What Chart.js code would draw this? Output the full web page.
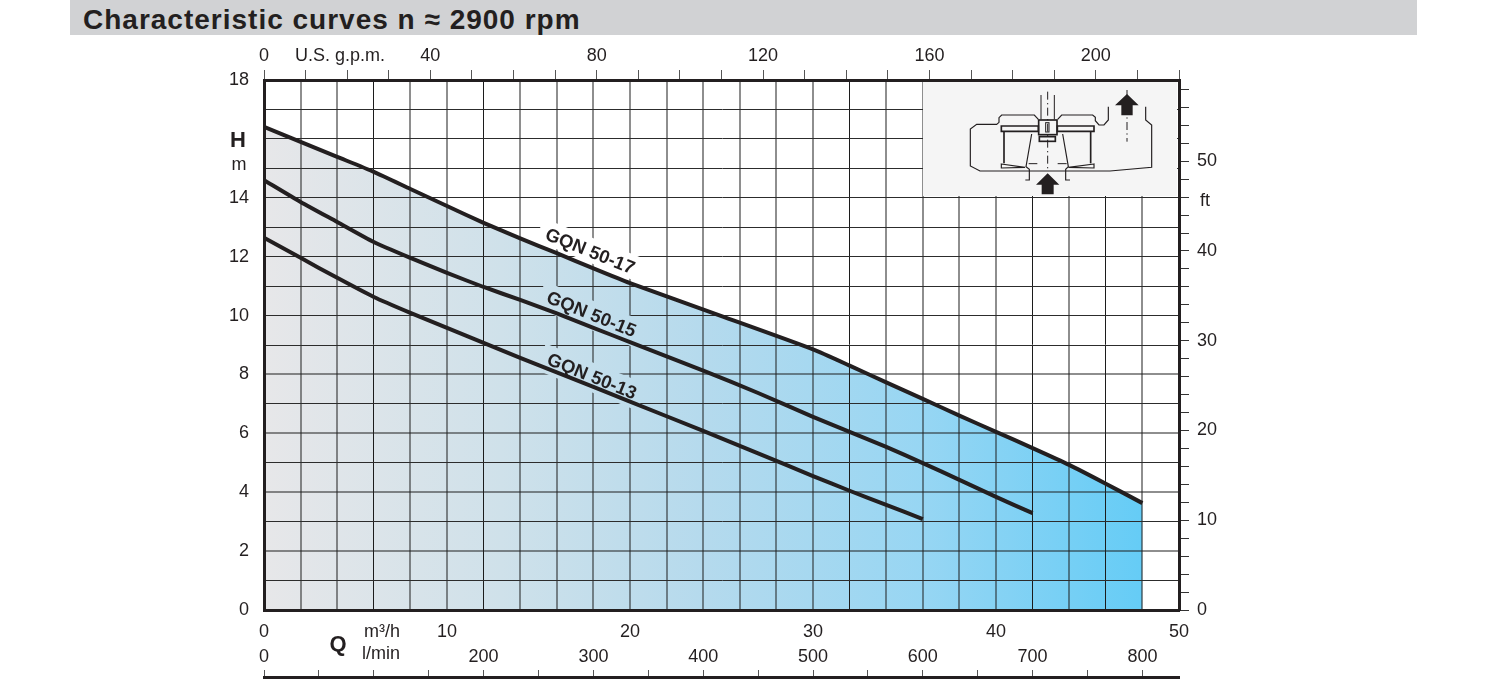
<!DOCTYPE html>
<html>
<head>
<meta charset="utf-8">
<script src="https://cdn.jsdelivr.net/npm/chart.js@4"></script>
<style>
html, body { margin: 0; padding: 0; background: #fff; }
#bar {
  position: absolute; left: 70px; top: 0; width: 1347px; height: 35px;
  background: #d1d2d4; color: #231f20; overflow: hidden;
  font: bold 28px/40px "Liberation Sans", sans-serif; letter-spacing: 1px; padding-left: 13px; box-sizing: border-box;
}
#wrap { position: absolute; left: 0; top: 0; width: 1487px; height: 682px; }
</style>
</head>
<body>
<div id="bar">Characteristic curves n ≈ 2900 rpm</div>
<div id="wrap"><canvas id="myChart" width="1487" height="682"></canvas></div>
<script>
const flow17 = [0, 2, 4, 6, 8, 10, 12, 14, 16, 18, 20, 25, 30, 32, 34, 36, 38, 40, 42, 44, 46, 48];
const head17 = [16.41, 15.9, 15.39, 14.88, 14.3, 13.72, 13.15, 12.62, 12.12, 11.6, 11.1, 9.98, 8.85, 8.3, 7.73, 7.17, 6.6, 6.05, 5.5, 4.93, 4.29, 3.63];
const flow15 = [0, 2, 4, 6, 8, 10, 12, 14, 16, 18, 20, 24, 27, 30, 32, 34, 36, 38, 40, 42];
const head15 = [14.6, 13.86, 13.18, 12.5, 11.96, 11.45, 10.97, 10.53, 10.07, 9.58, 9.1, 8.13, 7.37, 6.56, 6.05, 5.54, 4.99, 4.42, 3.84, 3.29];
const flow13 = [0, 2, 4, 6, 8, 10, 12, 14, 16, 20, 24, 27, 30, 32, 34, 36];
const head13 = [12.64, 11.96, 11.28, 10.63, 10.09, 9.58, 9.07, 8.56, 8.07, 7.08, 6.08, 5.32, 4.55, 4.05, 3.57, 3.09];

const curveNames = ['GQN 50-17', 'GQN 50-15', 'GQN 50-13'];
const nameFlow = [17.8, 17.87, 17.9];
const nameHead = [12.16, 10.02, 7.91];

const gpmLabels = [0, 40, 80, 120, 160, 200];
const lminLabels = [0, 200, 300, 400, 500, 600, 700, 800];
const flowLabels = [0, 10, 20, 30, 40, 50];
const headLabels = [0, 2, 4, 6, 8, 10, 12, 14, 18];
const feetLabels = [0, 10, 20, 30, 40, 50];

// the scan shows some grid lines crisp and black, the others soft and grey
const crispFlow = [6, 12, 32, 42, 46];
const softHead = [2, 4, 6, 8];

const dark = '#231f20';
const softLine = 'rgba(30,30,30,0.5)';
const font = { family: '"Liberation Sans", sans-serif', size: 18 };

function points(xs, ys) {
  return xs.map((x, i) => ({ x: x, y: ys[i] }));
}

function onlyLabels(list) {
  return function (value) {
    return list.includes(value) ? String(value) : '';
  };
}

function areaGradient(context) {
  const chart = context.chart;
  if (!chart.chartArea) return 'rgba(0,0,0,0)';
  const x0 = chart.scales.x.getPixelForValue(0);
  const x1 = chart.scales.x.getPixelForValue(48);
  const g = chart.ctx.createLinearGradient(x0, 0, x1, 0);
  g.addColorStop(0, '#e7e7e9');
  g.addColorStop(0.27, '#cfe1ea');
  g.addColorStop(0.5, '#b5daed');
  g.addColorStop(0.75, '#97d6f3');
  g.addColorStop(1, '#65ccf6');
  return g;
}

function text(ctx, str, x, y, f, align) {
  ctx.font = f;
  ctx.textAlign = align || 'center';
  ctx.textBaseline = 'middle';
  ctx.fillStyle = dark;
  ctx.fillText(str, x, y);
}

function path(ctx, pts, close) {
  ctx.beginPath();
  pts.forEach((p, i) => i ? ctx.lineTo(p[0], p[1]) : ctx.moveTo(p[0], p[1]));
  if (close) ctx.closePath();
}

// little pump section in the top right corner, drawn in zoomed coords
function drawPump(ctx) {
  ctx.save();
  ctx.fillStyle = '#f5f5f5';
  ctx.fillRect(923, 82, 254, 114);
  ctx.translate(900, 40);
  ctx.scale(1 / 3, 1 / 3);
  ctx.strokeStyle = dark;
  ctx.fillStyle = dark;
  ctx.lineWidth = 3.5;
  path(ctx, [[625, 200], [625, 240], [612, 255], [597, 255], [586, 242], [586, 232], [578, 225], [485, 225], [473, 238]]);
  ctx.stroke();
  path(ctx, [[415, 238], [403, 225], [305, 225], [297, 233], [297, 247], [290, 253], [230, 253], [211, 267], [211, 378], [240, 393], [630, 393], [755, 382], [755, 255], [737, 240], [737, 200]]);
  ctx.stroke();
  ctx.lineWidth = 5;
  path(ctx, [[304, 258], [415, 258], [415, 274], [304, 274]], true);
  ctx.stroke();
  path(ctx, [[472, 258], [582, 258], [582, 274], [472, 274]], true);
  ctx.stroke();
  path(ctx, [[312, 276], [312, 370]]);
  ctx.stroke();
  path(ctx, [[572, 276], [572, 370]]);
  ctx.stroke();
  ctx.lineWidth = 3.5;
  path(ctx, [[395, 282], [378, 380], [388, 388], [388, 420], [376, 420]]);
  ctx.stroke();
  path(ctx, [[488, 282], [505, 380], [497, 388], [497, 420], [510, 420]]);
  ctx.stroke();
  path(ctx, [[304, 372], [375, 382], [304, 384]], true);
  ctx.stroke();
  path(ctx, [[582, 372], [505, 382], [582, 384]], true);
  ctx.stroke();
  ctx.lineWidth = 5;
  ctx.strokeRect(416, 240, 55, 44);
  ctx.strokeRect(418, 290, 48, 14);
  ctx.lineWidth = 3;
  path(ctx, [[423, 165], [423, 238]]);
  ctx.stroke();
  path(ctx, [[463, 165], [463, 238]]);
  ctx.stroke();
  ctx.strokeRect(437, 248, 10, 28);
  ctx.setLineDash([24, 10, 4, 10]);
  path(ctx, [[443, 155], [443, 395]]);
  ctx.stroke();
  path(ctx, [[681, 150], [681, 305]]);
  ctx.stroke();
  ctx.setLineDash([]);
  path(ctx, [[386, 371], [412, 371]]);
  ctx.stroke();
  path(ctx, [[473, 371], [500, 371]]);
  ctx.stroke();
  path(ctx, [[443, 400], [478, 434], [461, 434], [461, 463], [425, 463], [425, 434], [408, 434]], true);
  ctx.fill();
  path(ctx, [[681, 162], [716, 196], [698, 196], [698, 226], [664, 226], [664, 196], [645, 196]], true);
  ctx.fill();
  ctx.restore();
}

const extraText = {
  id: 'extraText',
  // grid lines stop around the curve names, as in the printed sheet
  beforeDatasetsDraw(chart) {
    const ctx = chart.ctx;
    const { x, y } = chart.scales;
    curveNames.forEach((name, i) => {
      ctx.save();
      ctx.translate(x.getPixelForValue(nameFlow[i]), y.getPixelForValue(nameHead[i]));
      ctx.rotate(22 * Math.PI / 180);
      ctx.beginPath();
      ctx.rect(-55, -14, 110, i === 0 ? 24 : 28);
      ctx.restore();
      ctx.fillStyle = i === 0 ? '#fff' : areaGradient({ chart: chart });
      ctx.fill();
    });
  },
  afterDatasetsDraw(chart) {
    const ctx = chart.ctx;
    const { x, y } = chart.scales;
    drawPump(ctx);

    curveNames.forEach((name, i) => {
      ctx.save();
      ctx.translate(x.getPixelForValue(nameFlow[i]), y.getPixelForValue(nameHead[i]));
      ctx.rotate(22 * Math.PI / 180);
      text(ctx, name, 0, 0, 'bold 18.5px "Liberation Sans", sans-serif');
      ctx.restore();
    });

    const f = '18px "Liberation Sans", sans-serif';
    text(ctx, 'U.S. g.p.m.', 340, 56, f);
    text(ctx, 'H', 238, 141, 'bold 22px "Liberation Sans", sans-serif');
    text(ctx, 'm', 239, 165, f);
    text(ctx, 'ft', 1205, 201, f);
    text(ctx, 'Q', 338, 645, 'bold 22px "Liberation Sans", sans-serif');
    text(ctx, 'm³/h', 382, 632, f);
    text(ctx, 'l/min', 381, 654, f);
  }
};

function curve(xs, ys, fill) {
  return {
    data: points(xs, ys),
    xAxisID: 'x',
    yAxisID: 'y',
    borderColor: dark,
    borderWidth: 4,
    pointRadius: 0,
    tension: 0.2,
    fill: fill ? 'origin' : false,
    backgroundColor: fill ? areaGradient : 'transparent'
  };
}

new Chart(document.getElementById('myChart'), {
  type: 'line',
  data: {
    datasets: [curve(flow17, head17, true), curve(flow15, head15, false), curve(flow13, head13, false)]
  },
  plugins: [extraText],
  options: {
    responsive: false,
    animation: false,
    layout: { padding: 0 },
    plugins: {
      legend: { display: false },
      tooltip: { enabled: false },
      filler: { drawTime: 'beforeDraw' }
    },
    scales: {
      x: {
        type: 'linear', position: 'bottom', min: 0, max: 50,
        afterFit(s) { s.height = 72; },
        border: { color: dark, width: 3 },
        grid: {
          drawTicks: false,
          color: c => crispFlow.includes(c.tick.value) ? '#1c1c1c' : softLine,
          lineWidth: c => crispFlow.includes(c.tick.value) ? 1 : 2
        },
        ticks: { stepSize: 2, autoSkip: false, maxRotation: 0, padding: 11, color: dark, font: font, callback: onlyLabels(flowLabels) }
      },
      gpm: {
        axis: 'x', type: 'linear', position: 'top', min: 0, max: 220,
        afterFit(s) { s.height = 80; },
        border: { color: dark, width: 3 },
        grid: { drawOnChartArea: false, color: '#555', tickColor: '#555', tickLength: 10 },
        ticks: { stepSize: 10, autoSkip: false, maxRotation: 0, padding: 3, color: dark, font: font, callback: onlyLabels(gpmLabels) }
      },
      lmin: {
        axis: 'x', type: 'linear', position: { y: -2.3 }, min: 0, max: 833.33,
        border: { color: dark, width: 3 },
        grid: { drawOnChartArea: false, color: '#555', tickColor: '#555', tickLength: -9 },
        ticks: { stepSize: 50, includeBounds: false, autoSkip: false, maxRotation: 0, padding: -22, color: dark, font: font, callback: onlyLabels(lminLabels) }
      },
      y: {
        type: 'linear', position: 'left', min: 0, max: 18,
        afterFit(s) { s.width = 264; },
        border: { color: dark, width: 3 },
        grid: {
          drawTicks: false,
          color: c => softHead.includes(c.tick.value) ? softLine : '#2c2c2c',
          lineWidth: c => softHead.includes(c.tick.value) ? 2 : 1
        },
        ticks: { stepSize: 1, autoSkip: false, padding: 15, color: dark, font: font, callback: onlyLabels(headLabels) }
      },
      ft: {
        axis: 'y', type: 'linear', position: 'right', min: 0, max: 59.05,
        afterFit(s) { s.width = 308; },
        border: { color: dark, width: 3 },
        grid: { drawOnChartArea: false, color: '#333', tickColor: '#333', tickLength: 10 },
        ticks: { stepSize: 2, includeBounds: false, autoSkip: false, padding: 8, color: dark, font: font, callback: onlyLabels(feetLabels) }
      }
    }
  }
});
</script>
</body>
</html>
